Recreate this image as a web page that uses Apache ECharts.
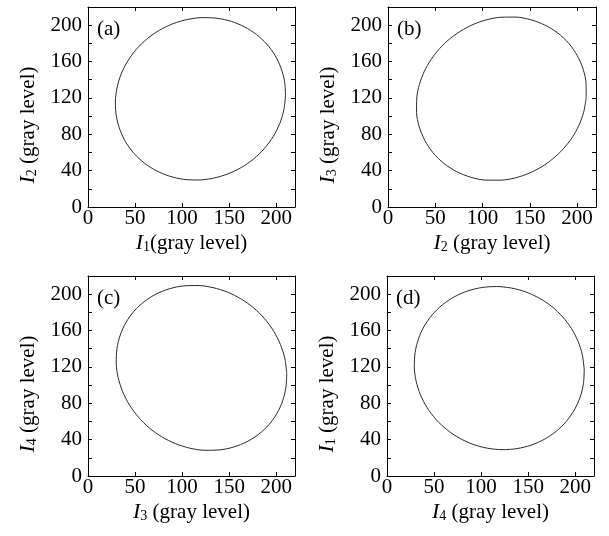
<!DOCTYPE html>
<html>
<head>
<meta charset="utf-8">
<script src="https://cdn.jsdelivr.net/npm/echarts@6/dist/echarts.min.js"></script>
<style>
  html, body { margin: 0; padding: 0; background: #fff; }
  #chart { width: 609px; height: 536px; }
</style>
</head>
<body>
<div id="chart"></div>
<script>
// points (gray levels), every 10 degrees round the loop
var aX = [209.9, 208.9, 205.1, 198.8, 190.0, 179.1, 166.4, 152.3, 137.2, 121.5, 105.8, 90.5, 76.0, 62.9, 51.5, 42.2, 35.2, 30.8,
          29.1, 30.1, 33.9, 40.2, 49.0, 59.9, 72.6, 86.7, 101.8, 117.5, 133.2, 148.5, 163.0, 176.1, 187.5, 196.8, 203.8, 208.2, 209.9];
var aY = [122.6, 138.1, 152.9, 166.8, 179.2, 189.7, 198.1, 204.2, 207.6, 208.3, 206.3, 201.7, 194.5, 185.1, 173.6, 160.5, 146.2, 131.0,
          115.4, 99.9, 85.1, 71.2, 58.8, 48.3, 39.9, 33.9, 30.4, 29.7, 31.7, 36.3, 43.5, 52.9, 64.4, 77.5, 91.8, 107.1, 122.6];

var bX = [209.6, 209.5, 206.4, 200.2, 191.1, 179.4, 165.8, 150.7, 135.0, 119.3, 104.1, 89.9, 76.8, 64.9, 54.5, 45.6, 38.4, 33.3,
          30.4, 30.2, 33.0, 38.9, 47.6, 59.1, 72.6, 87.6, 103.4, 119.3, 134.8, 149.4, 162.8, 174.9, 185.6, 194.7, 201.9, 207.0, 209.6];
var bY = [119.8, 135.7, 151.5, 166.5, 180.1, 191.5, 200.2, 206.1, 208.9, 208.7, 205.9, 200.7, 193.5, 184.6, 174.2, 162.3, 149.2, 135.0,
          119.8, 104.1, 88.4, 73.4, 59.7, 48.0, 38.9, 32.7, 29.6, 29.5, 32.1, 37.2, 44.4, 53.5, 64.2, 76.3, 89.8, 104.4, 119.8];

var cX = [211.2, 209.2, 204.5, 197.3, 187.8, 176.2, 162.9, 148.3, 132.9, 117.1, 101.4, 86.3, 72.3, 59.7, 49.0, 40.4, 34.3, 30.8,
          30.0, 32.0, 36.7, 43.9, 53.5, 65.0, 78.3, 92.9, 108.3, 124.1, 139.8, 154.9, 168.9, 181.5, 192.3, 200.8, 206.9, 210.4, 211.2];
var cY = [113.4, 129.2, 144.7, 159.4, 172.9, 184.8, 194.6, 202.2, 207.2, 209.5, 209.1, 205.9, 200.1, 191.8, 181.4, 169.0, 155.1, 140.1,
          124.4, 108.6, 93.1, 78.4, 64.9, 53.0, 43.2, 35.6, 30.6, 28.3, 28.7, 31.9, 37.7, 46.0, 56.5, 68.8, 82.7, 97.8, 113.4];

var dX = [209.6, 207.7, 203.1, 196.0, 186.5, 175.1, 161.9, 147.4, 132.0, 116.3, 100.7, 85.6, 71.6, 59.0, 48.2, 39.6, 33.4, 29.9,
          29.0, 30.9, 35.5, 42.6, 52.1, 63.6, 76.8, 91.2, 106.6, 122.3, 137.9, 153.0, 167.1, 179.7, 190.4, 199.0, 205.2, 208.8, 209.6];
var dY = [117.2, 132.8, 148.0, 162.3, 175.2, 186.5, 195.6, 202.5, 206.8, 208.4, 207.3, 203.5, 197.1, 188.4, 177.5, 164.9, 150.8, 135.8,
          120.2, 104.6, 89.4, 75.2, 62.2, 51.0, 41.8, 34.9, 30.6, 29.0, 30.1, 33.9, 40.3, 49.0, 59.9, 72.6, 86.6, 101.7, 117.2];

var panelTags = ["(a)", "(b)", "(c)", "(d)"];
var xNames = ["{i|I}{s|1}(gray level)", "{i|I}{s|2} (gray level)", "{i|I}{s|3} (gray level)", "{i|I}{s|4} (gray level)"];
var yNames = ["{i|I}{s|2} (gray level)", "{i|I}{s|3} (gray level)", "{i|I}{s|4} (gray level)", "{i|I}{s|1} (gray level)"];

var FONT = "'Liberation Serif', 'Times New Roman', serif";
var boxes = [
  { left: 88, top: 7, width: 207, height: 200 },
  { left: 388, top: 7, width: 208, height: 200 },
  { left: 88, top: 276, width: 207, height: 200 },
  { left: 387, top: 276, width: 207, height: 200 }
];
var curves = [[aX, aY], [bX, bY], [cX, cY], [dX, dY]];

var richName = {
  i: { fontStyle: "italic", fontSize: 22, fontFamily: FONT, color: "#000" },
  s: { fontSize: 14, fontFamily: FONT, color: "#000", lineHeight: 8, verticalAlign: "bottom" }
};

function axisLine() {
  return { show: true, onZero: false, lineStyle: { color: "#000", width: 1 } };
}
function axisTick() {
  return { show: true, inside: true, length: 4, lineStyle: { color: "#000", width: 1 } };
}

var grids = [], xAxes = [], yAxes = [], series = [], graphics = [];

boxes.forEach(function(b, k) {
  grids.push({
    left: b.left, top: b.top, width: b.width, height: b.height,
    containLabel: false, outerBoundsMode: "none", show: false
  });
  // bottom
  xAxes.push({
    type: "value", gridIndex: k, position: "bottom", min: 0, max: 220, interval: 50,
    axisLine: axisLine(), axisTick: axisTick(), splitLine: { show: false },
    axisLabel: {
      margin: 1, color: "#000", fontSize: 21, fontFamily: FONT,
      formatter: function(v) { return v % 50 === 0 ? String(v) : ""; }
    },
    name: xNames[k], nameLocation: "middle", nameGap: 25,
    nameTextStyle: { fontSize: 21, fontFamily: FONT, color: "#000", rich: richName }
  });
  // top (frame only)
  xAxes.push({
    type: "value", gridIndex: k, position: "top", min: 0, max: 220, interval: 50,
    axisLine: axisLine(), axisTick: axisTick(), splitLine: { show: false }, axisLabel: { show: false }
  });
  // left
  yAxes.push({
    type: "value", gridIndex: k, position: "left", min: 0, max: 220, interval: 20,
    axisLine: axisLine(), axisTick: axisTick(), splitLine: { show: false },
    axisLabel: {
      margin: 6, color: "#000", fontSize: 21, fontFamily: FONT,
      formatter: function(v) { return v % 40 === 0 ? String(v) : ""; }
    },
    name: yNames[k], nameLocation: "middle", nameGap: 49,
    nameTextStyle: { fontSize: 21, fontFamily: FONT, color: "#000", rich: richName, padding: [0, 36, 0, 0] }
  });
  // right (frame only)
  yAxes.push({
    type: "value", gridIndex: k, position: "right", min: 0, max: 220, interval: 20,
    axisLine: axisLine(), axisTick: axisTick(), splitLine: { show: false }, axisLabel: { show: false }
  });

  var xs = curves[k][0], ys = curves[k][1];
  series.push({
    type: "line",
    xAxisIndex: 2 * k,
    yAxisIndex: 2 * k,
    data: xs.map(function(x, j) { return [x, ys[j]]; }),
    smooth: 0.3,
    symbol: "none",
    lineStyle: { color: "#2a2a2a", width: 1 },
    silent: true
  });

  graphics.push({
    type: "text",
    x: b.left + 9,
    y: b.top + 22,
    style: {
      text: panelTags[k], fill: "#000", fontSize: 21, fontFamily: FONT,
      verticalAlign: "middle", align: "left"
    }
  });
});

var chart = echarts.init(document.getElementById("chart"), null, { renderer: "canvas" });
chart.setOption({
  backgroundColor: "#fff",
  animation: false,
  grid: grids,
  xAxis: xAxes,
  yAxis: yAxes,
  series: series,
  graphic: graphics
});
</script>
</body>
</html>
